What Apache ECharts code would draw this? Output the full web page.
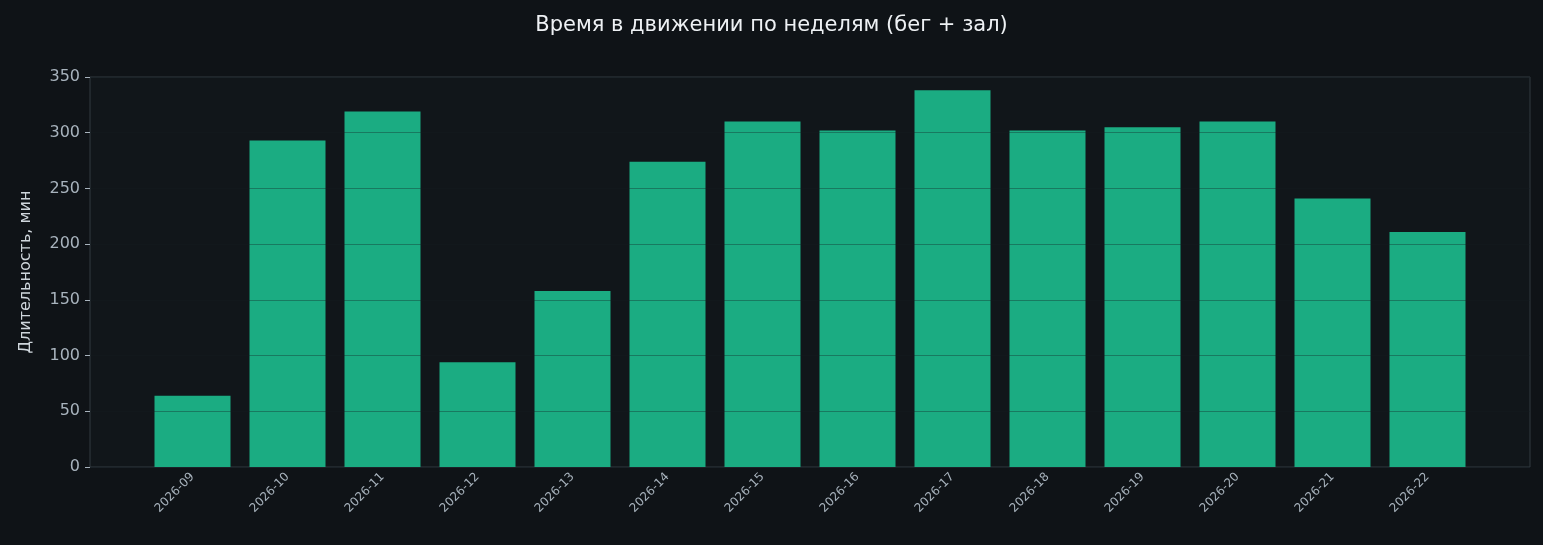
<!DOCTYPE html>
<html lang="ru">
<head>
    <meta charset="UTF-8">
    <script src="https://cdn.jsdelivr.net/npm/echarts@6/dist/echarts.min.js"></script>
    <title>Время в движении</title>
    <style>html,body{margin:0;background:#0f1317;}</style>
</head>
<body>
    <div id="chart" style="width:1543px;height:545px;"></div>
<script type="text/javascript">
    var weeks = ['2026-09','2026-10','2026-11','2026-12','2026-13','2026-14','2026-15',
                 '2026-16','2026-17','2026-18','2026-19','2026-20','2026-21','2026-22'];
    var minutes = [64, 293, 319, 94, 158, 274, 310, 302, 338, 302, 305, 310, 241, 211];
    var yTicks = {min: 0, max: 350, interval: 50};

    var chart = echarts.init(document.getElementById('chart'));
    var font = 'DejaVu Sans';
    chart.setOption({
        backgroundColor: '#0f1317',
        textStyle: {fontFamily: font},
        title: {
            text: 'Время в движении по неделям (бег + зал)',
            left: 'center', top: 10,
            textStyle: {color: '#eef1f4', fontSize: 21, fontWeight: 'normal'}
        },
        grid: [
            // frame + y axis
            {left: 90, right: 13, top: 77, bottom: 78, show: true,
             backgroundColor: '#11161a', borderColor: '#333a41', borderWidth: 1},
            // bars
            {left: 145, right: 68, top: 77, bottom: 78}
        ],
        xAxis: [
            {gridIndex: 0, type: 'value', show: false, min: 0, max: 1},
            {gridIndex: 1, type: 'category', data: weeks,
             axisLine: {show: false},
             axisTick: {alignWithLabel: true, length: 5, lineStyle: {color: '#a8b3bd'}},
             axisLabel: {rotate: 45, color: '#a8b3bd', fontSize: 12, margin: 8}}
        ],
        yAxis: [
            {gridIndex: 0, type: 'value', min: yTicks.min, max: yTicks.max, interval: yTicks.interval,
             z: 10,
             name: 'Длительность, мин', nameLocation: 'middle', nameGap: 56,
             nameTextStyle: {color: '#cfd6dc', fontSize: 16},
             axisLine: {show: false},
             axisTick: {show: true, length: 5, lineStyle: {color: '#a8b3bd'}},
             axisLabel: {color: '#a8b3bd', fontSize: 16, margin: 10},
             splitLine: {show: true, lineStyle: {color: 'rgba(20,30,34,0.35)', width: 1}}},
            {gridIndex: 1, type: 'value', min: yTicks.min, max: yTicks.max, show: false,
             splitLine: {show: false}}
        ],
        series: [{
            type: 'bar',
            xAxisIndex: 1, yAxisIndex: 1,
            data: minutes,
            barWidth: 76,
            itemStyle: {color: '#1bac82'}
        }]
    });
</script>
</body>
</html>
